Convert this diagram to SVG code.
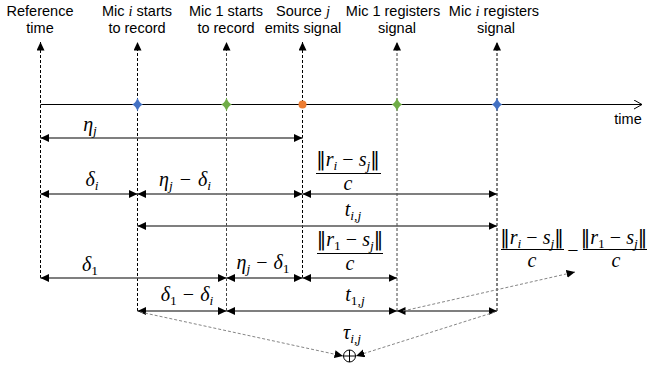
<svg xmlns="http://www.w3.org/2000/svg" width="650" height="369" viewBox="0 0 650 369">
<style>
.lbl{font-family:"Liberation Sans",Arial,sans-serif;font-size:14.5px;fill:#000;text-anchor:middle}
.iv{font-family:"Liberation Serif","DejaVu Serif",serif;font-style:italic}
.m{font-family:"Liberation Serif","DejaVu Serif",serif;font-size:20px;fill:#000;text-anchor:middle}
.v{font-style:italic}
.s{font-size:13.5px}
.n{font-family:"DejaVu Sans","Liberation Serif",serif;font-weight:normal;font-size:19px}
.vd{stroke:#000;stroke-width:1;stroke-dasharray:3,2;fill:none}
.vg{stroke:#444;stroke-width:1;stroke-dasharray:3,2;fill:none}
.h{stroke:#555;stroke-width:1.3;fill:none}
.dg{stroke:#777;stroke-width:0.9;stroke-dasharray:3,2;fill:none}
.bar{stroke:#000;stroke-width:1}
</style>
<defs>
<marker id="ah" markerUnits="userSpaceOnUse" markerWidth="10" markerHeight="9" refX="8.5" refY="4" orient="auto-start-reverse" viewBox="0 0 10 9">
<path d="M0,0 L8.5,4 L0,8 z" fill="#000"/>
</marker>
<marker id="open" markerUnits="userSpaceOnUse" markerWidth="10" markerHeight="10" refX="8" refY="4.5" orient="auto" viewBox="0 0 10 10">
<path d="M0,0 L8,4.5 L0,9" fill="none" stroke="#000" stroke-width="1"/>
</marker>
<path id="star" d="M0,-7 Q1.5,-1.5 5.5,0 Q1.5,1.5 0,7 Q-1.5,1.5 -5.5,0 Q-1.5,-1.5 0,-7 z"/>
</defs>

<g id="labels">
<g id="lbl-ref"><text class="lbl" x="40" y="16">Reference</text><text class="lbl" x="40" y="33">time</text></g>
<g id="lbl-mici"><text class="lbl" x="137" y="16">Mic <tspan class="iv">i</tspan> starts</text><text class="lbl" x="137" y="33">to record</text></g>
<g id="lbl-mic1"><text class="lbl" x="226" y="16">Mic 1 starts</text><text class="lbl" x="226" y="33">to record</text></g>
<g id="lbl-src"><text class="lbl" x="303" y="16">Source <tspan class="iv">j</tspan></text><text class="lbl" x="303" y="33">emits signal</text></g>
<g id="lbl-mic1reg"><text class="lbl" x="393" y="16">Mic 1 registers</text><text class="lbl" x="397" y="33">signal</text></g>
<g id="lbl-micireg"><text class="lbl" x="494" y="16">Mic <tspan class="iv">i</tspan> registers</text><text class="lbl" x="496" y="33">signal</text></g>
<g id="lbl-time"><text class="lbl" x="628" y="124">time</text></g>
</g>

<g id="connectors">
<line class="vd" x1="40.5" y1="278" x2="40.5" y2="42" marker-end="url(#ah)"/>
<line class="vd" x1="137.5" y1="311" x2="137.5" y2="42" marker-end="url(#ah)"/>
<line class="vg" x1="226.5" y1="311" x2="226.5" y2="42" marker-end="url(#ah)"/>
<line class="vd" x1="302.5" y1="278" x2="302.5" y2="42" marker-end="url(#ah)"/>
<line class="vg" x1="397" y1="311" x2="397" y2="42" marker-end="url(#ah)"/>
<line class="vd" x1="497" y1="311" x2="497" y2="42" marker-end="url(#ah)"/>

<line x1="40.5" y1="104.5" x2="642" y2="104.5" stroke="#000" stroke-width="1.2" marker-end="url(#open)"/>

<line class="h" x1="40.5" y1="138" x2="302.5" y2="138" marker-start="url(#ah)" marker-end="url(#ah)"/>
<line class="h" x1="40.5" y1="194" x2="137.5" y2="194" marker-start="url(#ah)" marker-end="url(#ah)"/>
<line class="h" x1="137.5" y1="194" x2="302.5" y2="194" marker-start="url(#ah)" marker-end="url(#ah)"/>
<line class="h" x1="302.5" y1="194" x2="497" y2="194" marker-start="url(#ah)" marker-end="url(#ah)"/>
<line class="h" x1="137.5" y1="226" x2="497" y2="226" marker-start="url(#ah)" marker-end="url(#ah)"/>
<line class="h" x1="40.5" y1="278" x2="226.5" y2="278" marker-start="url(#ah)" marker-end="url(#ah)"/>
<line class="h" x1="226.5" y1="278" x2="302.5" y2="278" marker-start="url(#ah)" marker-end="url(#ah)"/>
<line class="h" x1="302.5" y1="278" x2="397" y2="278" marker-start="url(#ah)" marker-end="url(#ah)"/>
<line class="h" x1="137.5" y1="311" x2="226.5" y2="311" marker-start="url(#ah)" marker-end="url(#ah)"/>
<line class="h" x1="226.5" y1="311" x2="397" y2="311" marker-start="url(#ah)" marker-end="url(#ah)"/>
<line class="h" x1="397" y1="311" x2="497" y2="311" marker-start="url(#ah)" marker-end="url(#ah)"/>

<line class="dg" x1="140" y1="312" x2="343" y2="356" marker-end="url(#ah)"/>
<line class="dg" x1="495" y1="312" x2="356" y2="356" marker-end="url(#ah)"/>
<line class="dg" x1="403" y1="311" x2="575" y2="272" marker-end="url(#ah)"/>
</g>

<g id="events">
<use href="#star" x="137.5" y="104.5" fill="#4472C4"/>
<use href="#star" x="226.5" y="104.5" fill="#70AD47"/>
<circle cx="302.5" cy="104.5" r="4" fill="#ED7D31"/>
<use href="#star" x="397" y="104.5" fill="#70AD47"/>
<use href="#star" x="497" y="104.5" fill="#4472C4"/>
</g>

<g id="math">
<text class="m" x="90" y="131"><tspan class="v">η</tspan><tspan class="s v" dy="4">j</tspan></text>
<text class="m" x="92" y="186"><tspan class="v">δ</tspan><tspan class="s v" dy="4">i</tspan></text>
<text class="m" x="185" y="186"><tspan class="v">η</tspan><tspan class="s v" dy="4">j</tspan><tspan dy="-4" dx="2"> − </tspan><tspan class="v" dx="2">δ</tspan><tspan class="s v" dy="4">i</tspan></text>
<g id="frac-i">
<text class="m" x="348" y="166"><tspan class="n">‖</tspan><tspan class="v">r</tspan><tspan class="s v" dy="4">i</tspan><tspan dy="-4"> − </tspan><tspan class="v">s</tspan><tspan class="s v" dy="4">j</tspan><tspan class="n" dy="-4">‖</tspan></text>
<line class="bar" x1="316" y1="173.5" x2="381" y2="173.5"/>
<text class="m v" x="348" y="190">c</text>
</g>
<text class="m" x="353" y="216"><tspan class="v">t</tspan><tspan class="s v" dy="4">i,j</tspan></text>
<text class="m" x="90" y="271"><tspan class="v">δ</tspan><tspan class="s" dy="4">1</tspan></text>
<text class="m" x="263" y="269"><tspan class="v">η</tspan><tspan class="s v" dy="4">j</tspan><tspan dy="-4" dx="1"> − </tspan><tspan class="v" dx="1">δ</tspan><tspan class="s" dy="4">1</tspan></text>
<g id="frac-1">
<text class="m" x="350" y="246"><tspan class="n">‖</tspan><tspan class="v">r</tspan><tspan class="s" dy="4">1</tspan><tspan dy="-4"> − </tspan><tspan class="v">s</tspan><tspan class="s v" dy="4">j</tspan><tspan class="n" dy="-4">‖</tspan></text>
<line class="bar" x1="317" y1="253.5" x2="383" y2="253.5"/>
<text class="m v" x="350" y="270">c</text>
</g>
<text class="m" x="187" y="301"><tspan class="v">δ</tspan><tspan class="s" dy="4">1</tspan><tspan dy="-4" dx="1"> − </tspan><tspan class="v" dx="1">δ</tspan><tspan class="s v" dy="4">i</tspan></text>
<text class="m" x="355" y="301"><tspan class="v">t</tspan><tspan class="s" dy="4">1,<tspan class="v">j</tspan></tspan></text>
<text class="m" x="352" y="339"><tspan class="v">τ</tspan><tspan class="s v" dy="4">i,j</tspan></text>
<g id="diff">
<text class="m" x="532" y="244"><tspan class="n">‖</tspan><tspan class="v">r</tspan><tspan class="s v" dy="4">i</tspan><tspan dy="-4"> − </tspan><tspan class="v">s</tspan><tspan class="s v" dy="4">j</tspan><tspan class="n" dy="-4">‖</tspan></text>
<line class="bar" x1="501" y1="249.5" x2="564" y2="249.5"/>
<text class="m v" x="532" y="267">c</text>
<text class="m" x="573" y="257">−</text>
<text class="m" x="614" y="244"><tspan class="n">‖</tspan><tspan class="v">r</tspan><tspan class="s" dy="4">1</tspan><tspan dy="-4"> − </tspan><tspan class="v">s</tspan><tspan class="s v" dy="4">j</tspan><tspan class="n" dy="-4">‖</tspan></text>
<line class="bar" x1="583" y1="249.5" x2="647" y2="249.5"/>
<text class="m v" x="616" y="267">c</text>
</g>
</g>

<g id="oplus">
<circle cx="349.5" cy="356" r="6" fill="#fff" stroke="#000" stroke-width="1"/>
<line x1="343.5" y1="356" x2="355.5" y2="356" stroke="#000" stroke-width="1"/>
<line x1="349.5" y1="350" x2="349.5" y2="362" stroke="#000" stroke-width="1"/>
</g>
</svg>
